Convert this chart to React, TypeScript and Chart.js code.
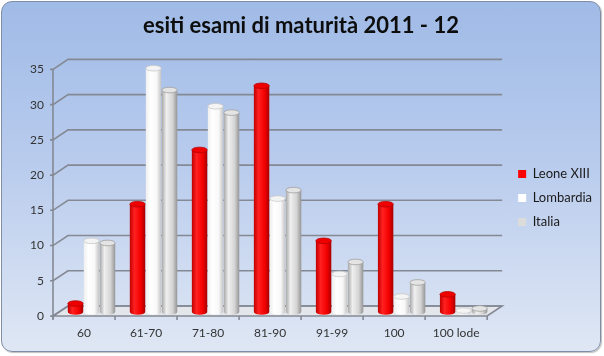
import React, { useEffect, useRef } from 'react';
import { Chart, registerables } from 'chart.js';

Chart.register(...registerables);

const categories = ['60', '61-70', '71-80', '81-90', '91-99', '100', '100 lode'];
const seriesNames = ['Leone XIII', 'Lombardia', 'Italia'];
const leone = [1.2, 15.3, 23.0, 32.1, 10.1, 15.3, 2.5];
const lombardia = [10.1, 34.6, 29.2, 16.1, 5.4, 2.2, 0.2];
const italia = [9.8, 31.5, 28.3, 17.3, 7.1, 4.2, 0.5];
const yMax = 35;
const yStep = 5;
const titleText = 'esiti esami di maturità 2011 - 12';

const FONT = 'Lato, "Open Sans", sans-serif';
const DEPTH_X = 15;
const DEPTH_Y = -10;
const GRID = '#848994';

const palettes = [
  { legend: '#ff0000', stops: ['#c00000', '#ff2020', '#f40000', '#a80000'], top: '#ee0000', rim: '#b80000' },
  { legend: '#ffffff', stops: ['#efefef', '#ffffff', '#f8f8f8', '#c4c4c4'], top: '#f4f4f4', rim: '#c8c8c8' },
  { legend: '#dcdcdc', stops: ['#a8a8a8', '#efefef', '#d4d4d4', '#959595'], top: '#e4e4e4', rim: '#a0a0a0' },
];

const wallsPlugin = {
  id: 'walls3d',
  beforeDatasetsDraw(chart: any) {
    const { ctx, chartArea } = chart;
    const ys = chart.scales.y;
    const xs = chart.scales.x;
    const L = chartArea.left;
    const R = chartArea.right;
    const B = chartArea.bottom;
    ctx.save();
    // floor
    ctx.beginPath();
    ctx.moveTo(L, B);
    ctx.lineTo(R, B);
    ctx.lineTo(R + DEPTH_X, B + DEPTH_Y);
    ctx.lineTo(L + DEPTH_X, B + DEPTH_Y);
    ctx.closePath();
    ctx.fillStyle = '#e3e6ea';
    ctx.fill();
    ctx.strokeStyle = GRID;
    ctx.lineWidth = 1.6;
    ctx.stroke();
    // grid lines on back wall + left wall diagonals
    for (let v = 0; v <= yMax; v += yStep) {
      const py = ys.getPixelForValue(v);
      ctx.beginPath();
      ctx.moveTo(L - 3, py);
      ctx.lineTo(L, py);
      ctx.lineTo(L + DEPTH_X, py + DEPTH_Y);
      ctx.lineTo(R + DEPTH_X, py + DEPTH_Y);
      ctx.stroke();
    }
    // front left vertical
    ctx.beginPath();
    ctx.moveTo(L, ys.getPixelForValue(yMax));
    ctx.lineTo(L, B + 3);
    ctx.stroke();
    // x tick marks at category boundaries
    const n = categories.length;
    const cw = xs.getPixelForValue(1) - xs.getPixelForValue(0);
    for (let i = 0; i <= n; i++) {
      const px = i < n ? xs.getPixelForValue(i) - cw / 2 : R;
      ctx.beginPath();
      ctx.moveTo(px, B);
      ctx.lineTo(px, B + 4);
      ctx.stroke();
    }
    ctx.restore();

    // cylinders
    const dx = DEPTH_X / 2;
    const dy = DEPTH_Y / 2 + 1;
    chart.data.datasets.forEach((ds: any, di: number) => {
      const meta = chart.getDatasetMeta(di);
      const pal = palettes[di];
      meta.data.forEach((el: any) => {
        const hw = el.width / 2 - 0.3;
        const cx = el.x + dx;
        const top = el.y + dy;
        const base = el.base + dy;
        const ry = 2.8;
        const g = ctx.createLinearGradient(cx - hw, 0, cx + hw, 0);
        g.addColorStop(0, pal.stops[0]);
        g.addColorStop(0.3, pal.stops[1]);
        g.addColorStop(0.7, pal.stops[2]);
        g.addColorStop(1, pal.stops[3]);
        ctx.save();
        ctx.fillStyle = g;
        ctx.beginPath();
        ctx.moveTo(cx - hw, top);
        ctx.lineTo(cx - hw, base);
        ctx.ellipse(cx, base, hw, ry, 0, Math.PI, 0, true);
        ctx.lineTo(cx + hw, top);
        ctx.closePath();
        ctx.fill();
        ctx.beginPath();
        ctx.ellipse(cx, top, hw, ry, 0, 0, Math.PI * 2);
        ctx.fillStyle = pal.top;
        ctx.fill();
        ctx.strokeStyle = pal.rim;
        ctx.lineWidth = 0.8;
        ctx.stroke();
        ctx.restore();
      });
    });
    return false;
  },
};

export default function App() {
  const canvasRef = useRef<HTMLCanvasElement | null>(null);

  useEffect(() => {
    document.body.style.margin = '0';
    const canvas = canvasRef.current;
    if (!canvas) return;
    const chart = new Chart(canvas, {
      type: 'bar',
      data: {
        labels: categories,
        datasets: [
          { label: seriesNames[0], data: leone, backgroundColor: palettes[0].legend, borderWidth: 0 },
          { label: seriesNames[1], data: lombardia, backgroundColor: palettes[1].legend, borderWidth: 0 },
          { label: seriesNames[2], data: italia, backgroundColor: palettes[2].legend, borderWidth: 0 },
        ],
      },
      options: {
        responsive: false,
        animation: false,
        events: [],
        layout: { padding: { left: 0, right: 2, top: 0, bottom: 0 } },
        datasets: { bar: { barPercentage: 1, categoryPercentage: 0.774 } },
        scales: {
          x: {
            grid: { display: false, drawTicks: false },
            border: { display: false },
            ticks: { padding: 10, color: '#333333', font: { family: FONT, size: 12 } },
            afterFit: (s: any) => { s.height = 40; },
          },
          y: {
            min: 0,
            max: yMax,
            grid: { display: false, drawTicks: false },
            border: { display: false },
            ticks: { stepSize: yStep, padding: 9, color: '#333333', font: { family: FONT, size: 12 } },
            afterFit: (s: any) => { s.width = 53; },
          },
          y2: {
            type: 'linear',
            position: 'right',
            display: true,
            grid: { display: false, drawTicks: false },
            border: { display: false },
            ticks: { display: false },
            afterFit: (s: any) => { s.width = 20; },
          },
        },
        plugins: {
          title: {
            display: true,
            text: titleText,
            color: '#0d0d0d',
            font: { family: FONT, size: 22, weight: 'bold' },
            padding: { top: 13, bottom: 30 },
          },
          legend: {
            position: 'right',
            title: {
              display: true,
              text: ' ',
              font: { family: FONT, size: 10 },
              padding: { top: 14, bottom: 14 },
            },
            labels: {
              boxWidth: 8,
              boxHeight: 8,
              padding: 11,
              color: '#1a1a1a',
              font: { family: FONT, size: 13 },
            },
          },
          tooltip: { enabled: false },
        },
      },
      plugins: [wallsPlugin],
    } as any);
    return () => chart.destroy();
  }, []);

  return (
    <div style={{ position: 'relative', width: 604, height: 356, background: '#ffffff' }}>
      <div
        style={{
          position: 'absolute',
          left: 1,
          top: 1,
          width: 598,
          height: 349,
          borderRadius: 11,
          border: '1px solid #7f8da6',
          boxShadow: '1px 1px 1px rgba(0,0,0,0.25)',
          background: 'linear-gradient(180deg, #a0bbe7 0%, #b8cbed 45%, #dfe7f4 100%)',
        }}
      />
      <canvas ref={canvasRef} width={604} height={356} style={{ position: 'absolute', left: 0, top: 0 }} />
    </div>
  );
}
